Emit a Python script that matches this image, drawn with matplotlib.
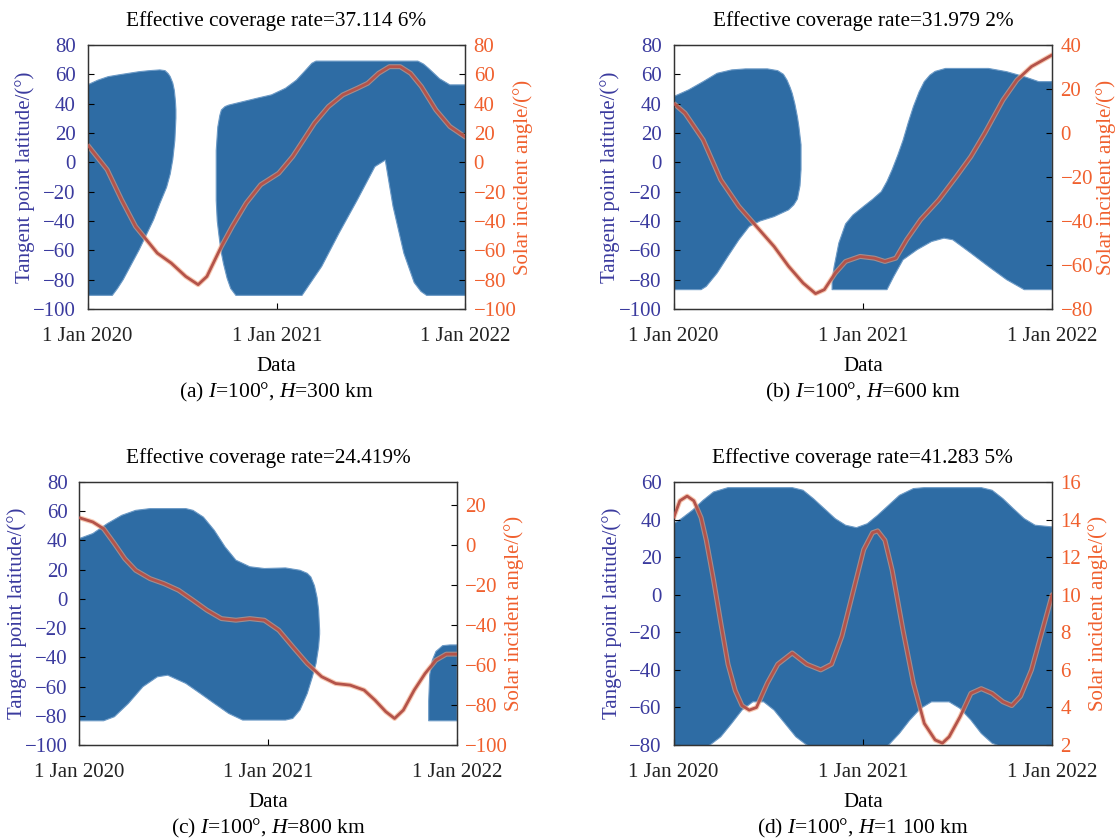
import numpy as np
import matplotlib
matplotlib.use('Agg')
import matplotlib.pyplot as plt

plt.rcParams.update({
    'font.family': ['Liberation Serif', 'DejaVu Serif'],
    'mathtext.fontset': 'custom',
    'mathtext.rm': 'Liberation Serif',
    'mathtext.it': 'Liberation Serif:italic',
    'axes.unicode_minus': True,
})

C_FILL = '#2e6ca4'
C_LINE = '#b4534a'
C_HALO = '#f3a47e'
C_LEFT = '#3a3a9e'
C_RIGHT = '#f0602e'

# ── (a) I=100°, H=300 km ──────────────────────────────────────
a_r1_up_d = [0, 20, 40, 60, 80, 100, 120, 140, 150, 156, 160, 165, 168, 170, 171]
a_r1_up_v = [52.8, 56, 58.4, 59.6, 60.7, 61.8, 62.5, 63, 62.5, 60.5, 58.4, 54, 49, 42, 36]
a_r1_lo_d = [0, 48, 58, 69, 100, 128, 140, 153, 160, 165, 169, 171]
a_r1_lo_v = [-90.7, -90.7, -86, -80, -59.6, -39, -28, -17, -8, 2, 15, 30]
a_r2_up_d = [249, 252, 256, 259, 266, 273, 301, 328, 356, 383, 404, 416, 425, 434, 442,
             639, 650, 660, 681, 701, 731]
a_r2_up_v = [8, 24, 32, 35.7, 38, 39, 41.4, 43.7, 46, 50.5, 56, 60.5, 64, 67.5, 69,
             69, 67, 64, 57, 52.8, 52.8]
a_r2_lo_d = [249, 251, 254, 258, 263, 270, 277, 287, 415, 453, 487, 522, 556, 576, 591,
             612, 632, 645, 656, 731]
a_r2_lo_v = [-26, -40, -49, -60, -69, -79, -86, -90.7, -90.7, -71, -48, -25.6, -2.9, 1.5,
             -30, -62, -82, -88, -90.7, -90.7]
a_sun_d = [0, 38, 66, 93, 114, 135, 162, 190, 214, 231, 259, 280, 307, 335, 370, 397, 418,
           439, 466, 494, 522, 542, 563, 584, 605, 625, 646, 674, 701, 731]
a_sun_v = [11.9, -5, -25.6, -43.7, -52.8, -61.9, -68.7, -77.8, -83.4, -77.8, -57.3, -43.7,
           -27.8, -15.3, -7.4, 4, 15.3, 26.7, 38, 46, 50.5, 53.9, 60.7, 65.2, 65.2, 60.7,
           51.6, 35.7, 24.4, 17.2]

# ── (b) I=100°, H=600 km ──────────────────────────────────────
b_r1_up_d = [0, 29, 57, 84, 112, 139, 181, 201, 212, 219, 225, 229, 234, 239, 242, 244, 246]
b_r1_up_v = [44.8, 49.4, 55, 60.7, 63, 63.7, 63.7, 62.5, 60, 56, 51, 47, 40, 31, 24, 18, 12]
b_r1_lo_d = [0, 53, 63, 84, 105, 126, 146, 167, 194, 222, 232, 239, 244, 246]
b_r1_lo_v = [-86.8, -86.8, -84.6, -75.5, -64, -52.8, -43.7, -40, -37, -32.4, -29, -25, -16, -5]
b_r2_up_d = [306, 310, 319, 332, 346, 367, 385, 401, 412, 422, 433, 443, 453, 463, 474,
             484, 495, 505, 525, 608, 643, 677, 705, 731]
b_r2_up_v = [-80, -71, -55, -42, -36, -30, -25, -20, -13, -5, 5, 15, 27, 38, 48,
             55, 59.5, 62, 64, 64, 61.8, 58.4, 55, 55]
b_r2_lo_d = [306, 412, 425, 443, 470, 498, 522, 539, 574, 608, 643, 677, 731]
b_r2_lo_v = [-86.8, -86.8, -77.8, -66.4, -59.6, -54, -51.7, -52.8, -61.9, -71, -80, -86.8, -86.8]
b_sun_d = [0, 22, 57, 91, 126, 160, 194, 222, 250, 274, 291, 312, 332, 360, 388, 408, 429,
           450, 477, 512, 546, 574, 601, 636, 663, 691, 731]
b_sun_v = [13.5, 9, -3.1, -21.3, -33.4, -42.5, -51.6, -60.6, -68.2, -73, -71.2, -63.7, -58.4,
           -56.1, -56.9, -58.4, -56.9, -48.5, -39.4, -30.4, -19.8, -10.7, 0, 15, 24.1, 30.2, 35.5]

# ── (c) I=100°, H=800 km ──────────────────────────────────────
c_r1_up_d = [0, 26, 54, 82, 109, 137, 206, 220, 240, 261, 282, 303, 330, 358, 399, 427,
             441, 448, 455, 460, 463, 465]
c_r1_up_v = [41.3, 44.7, 51.5, 57.2, 60.6, 61.8, 61.8, 60.6, 56, 47, 35.6, 26.5, 22, 20.8,
             21.2, 19.6, 17.5, 15, 9, 1, -7.7, -21.4]
c_r1_lo_d = [0, 47, 68, 95, 123, 151, 171, 206, 234, 261, 289, 316, 399, 413, 427, 441,
             451, 458, 463, 465]
c_r1_lo_v = [-83.4, -83.4, -80.6, -71.5, -60.1, -53.3, -52.2, -57.8, -64.7, -71.5, -78.4,
             -82.9, -82.9, -81.8, -76, -64.7, -53.3, -44.2, -32.8, -24]
c_r2_up_d = [676, 678, 683, 690, 703, 717, 731]
c_r2_up_v = [-70, -52, -42, -36, -32, -31.5, -31.5]
c_r2_lo_d = [676, 731]
c_r2_lo_v = [-83.4, -83.4]
c_sun_d = [0, 26, 47, 68, 88, 109, 137, 164, 192, 220, 247, 275, 303, 330, 358, 386, 413,
           441, 469, 496, 524, 551, 572, 593, 610, 627, 648, 669, 690, 710, 731]
c_sun_v = [13.8, 11.7, 8.3, 0.8, -6.7, -12.5, -16.7, -19.2, -22.5, -27.5, -32.5, -36.7,
           -37.5, -36.7, -37.5, -42.5, -50.8, -59.2, -65.8, -69.2, -70, -72.5, -77.5, -83.3,
           -86.7, -82.5, -72.5, -64.2, -57.5, -54.5, -54.5]

# ── (d) I=100°, H=1 100 km ────────────────────────────────────
d_up_d = [0, 15, 36, 57, 77, 105, 229, 250, 270, 291, 312, 332, 353, 374, 394, 415, 436,
          463, 484, 594, 615, 636, 656, 677, 698, 731]
d_up_v = [37.8, 40.5, 44.9, 50.3, 54.7, 57, 57, 55.6, 51.1, 45.8, 40.5, 37, 35.7, 37.8,
          42.3, 47.6, 52.9, 56.5, 57, 57, 55.6, 51.1, 45.8, 40.5, 37, 36.1]
d_lo_d = [0, 35, 70, 91, 112, 132, 153, 174, 194, 215, 236, 257, 300, 340, 380, 415, 436,
          456, 477, 498, 532, 553, 574, 594, 615, 660, 700, 731]
d_lo_v = [-85, -84, -80, -75.6, -68.5, -61.4, -57, -57, -61.4, -68.5, -75.6, -80, -84,
          -85, -84, -80, -73.8, -66.7, -60.5, -57, -57, -60.5, -66.7, -73.8, -79, -84, -85, -85]
d_sun_d = [0, 12, 26, 39, 53, 63, 77, 91, 105, 119, 132, 146, 160, 181, 201, 229, 257, 284,
           305, 325, 346, 367, 384, 394, 408, 422, 443, 463, 484, 505, 519, 532, 553, 574,
           594, 615, 636, 653, 670, 691, 712, 731]
d_sun_v = [14.1, 15.0, 15.25, 15.0, 14.1, 12.9, 10.8, 8.5, 6.3, 4.9, 4.1, 3.86, 4.0, 5.3,
           6.3, 6.9, 6.3, 6.0, 6.3, 7.8, 10.1, 12.4, 13.3, 13.4, 12.9, 11.3, 8.1, 5.3, 3.15,
           2.27, 2.1, 2.44, 3.5, 4.75, 5.0, 4.75, 4.3, 4.1, 4.6, 6.0, 8.1, 10.0]

x_ticks = [0, 366, 731]
x_labels = ['1 Jan 2020', '1 Jan 2021', '1 Jan 2022']

panels = [
    dict(pos=[0.0782, 0.6317, 0.3377, 0.3147],
         regions=[(a_r1_up_d, a_r1_up_v, a_r1_lo_d, a_r1_lo_v),
                  (a_r2_up_d, a_r2_up_v, a_r2_lo_d, a_r2_lo_v)],
         sun=(a_sun_d, a_sun_v), ylim=(-100, 80), yt=np.arange(-100, 81, 20),
         ylim2=(-100, 80), yt2=np.arange(-100, 81, 20), llab=-0.139, rlab=1.126,
         title='Effective coverage rate=37.114 6%',
         cap=r'(a) $I$=100°, $H$=300 km'),
    dict(pos=[0.6020, 0.6317, 0.3383, 0.3147],
         regions=[(b_r1_up_d, b_r1_up_v, b_r1_lo_d, b_r1_lo_v),
                  (b_r2_up_d, b_r2_up_v, b_r2_lo_d, b_r2_lo_v)],
         sun=(b_sun_d, b_sun_v), ylim=(-100, 80), yt=np.arange(-100, 81, 20),
         ylim2=(-80, 40), yt2=np.arange(-80, 41, 20), llab=-0.142, rlab=1.116,
         title='Effective coverage rate=31.979 2%',
         cap=r'(b) $I$=100°, $H$=600 km'),
    dict(pos=[0.0709, 0.1120, 0.3376, 0.3135],
         regions=[(c_r1_up_d, c_r1_up_v, c_r1_lo_d, c_r1_lo_v),
                  (c_r2_up_d, c_r2_up_v, c_r2_lo_d, c_r2_lo_v)],
         sun=(c_sun_d, c_sun_v), ylim=(-100, 80), yt=np.arange(-100, 81, 20),
         ylim2=(-100, 31.7), yt2=np.arange(-100, 21, 20), llab=-0.138, rlab=1.124,
         title='Effective coverage rate=24.419%',
         cap=r'(c) $I$=100°, $H$=800 km'),
    dict(pos=[0.6020, 0.1120, 0.3383, 0.3135],
         regions=[(d_up_d, d_up_v, d_lo_d, d_lo_v)],
         sun=(d_sun_d, d_sun_v), ylim=(-80, 60), yt=np.arange(-80, 61, 20),
         ylim2=(2, 16), yt2=np.arange(2, 17, 2), llab=-0.136, rlab=1.094,
         title='Effective coverage rate=41.283 5%',
         cap=r'(d) $I$=100°, $H$=1 100 km'),
]

FS = 15
fig = plt.figure(figsize=(11.19, 8.39), dpi=100)

for p in panels:
    ax = fig.add_axes(p['pos'])
    for ud, uv, ld, lv in p['regions']:
        xs = np.r_[ud, ld[::-1]]
        ys = np.r_[uv, lv[::-1]]
        ax.fill(xs, ys, color=C_FILL, lw=0.8, ec='#6c9ac6', joinstyle='round', zorder=1)
    ax.set_xlim(0, 731)
    ax.set_ylim(*p['ylim'])
    ax.set_yticks(p['yt'])
    ax.set_xticks(x_ticks)
    ax.set_xticklabels(x_labels)
    ax.tick_params(axis='y', direction='in', length=4, labelsize=FS,
                   labelcolor=C_LEFT, pad=8.5, width=0.8)
    ax.tick_params(axis='x', direction='in', length=4, labelsize=FS,
                   labelcolor='#222222', pad=13, width=0.8)
    ax.set_ylabel('Tangent point latitude/(°)', color=C_LEFT, fontsize=FS)
    ax.yaxis.set_label_coords(p['llab'], 0.5)
    ax.set_xlabel('Data', fontsize=FS, labelpad=8)
    ax.set_title(p['title'], fontsize=15.3, pad=14)
    for s in ax.spines.values():
        s.set_color('#333333')
        s.set_linewidth(0.9)

    ax2 = ax.twinx()
    sd, sv = p['sun']
    ax2.plot(sd, sv, color=C_HALO, lw=3.6, alpha=0.6, solid_capstyle='round', zorder=2)
    ax2.plot(sd, sv, color=C_LINE, lw=2.0, solid_capstyle='round', zorder=3)
    ax2.set_ylim(*p['ylim2'])
    ax2.set_yticks(p['yt2'])
    ax2.tick_params(axis='y', direction='in', length=4, labelsize=FS,
                    labelcolor=C_RIGHT, pad=6, width=0.8)
    ax2.set_ylabel('Solar incident angle/(°)', color=C_RIGHT, fontsize=FS)
    ax2.yaxis.set_label_coords(p['rlab'], 0.5)
    for s in ax2.spines.values():
        s.set_color('#333333')
        s.set_linewidth(0.9)

    x0, y0, w, h = p['pos']
    fig.text(x0 + w / 2, y0 - 0.0995, p['cap'], ha='center', va='center', fontsize=15.5)

fig.savefig('out.png', dpi=100, facecolor='white')
